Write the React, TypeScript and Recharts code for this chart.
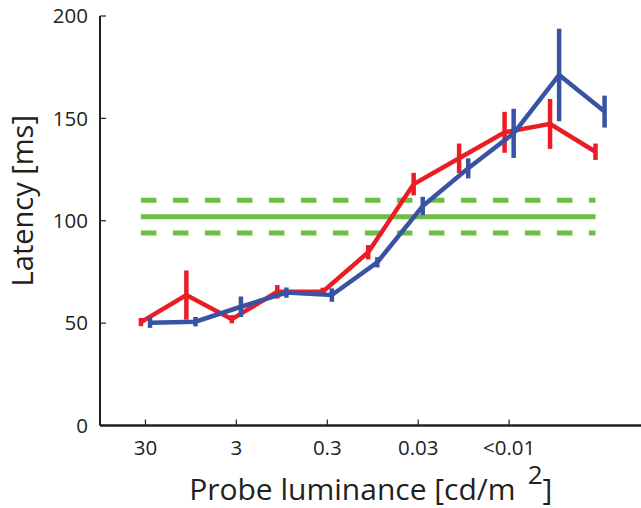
import React from 'react';
import { ComposedChart, Line, XAxis, YAxis, ErrorBar, Label } from 'recharts';

// ---- data ----
const conditionSteps = [0, 1, 2, 3, 4, 5, 6, 7, 8, 9, 10];
const redLatency = [50.5, 63.7, 51.9, 65.3, 65.3, 84.6, 117.9, 130.5, 143.2, 147.3, 133.7];
const redError = [2, 12, 2, 3.3, 2, 3.5, 5.5, 7.2, 10, 12.2, 4];
const blueLatency = [50.2, 50.7, 58.0, 64.9, 63.7, 79.7, 107.2, 125.6, 142.7, 171.2, 153.3];
const blueError = [2.5, 2.3, 5, 2.5, 3.3, 2.5, 4.5, 4.9, 12, 22.6, 7.8];
const greenMean = 102;
const greenUpper = 110;
const greenLower = 94;
const xTickValues = [0, 2, 4, 6, 8];
const xTickLabels = ['30', '3', '0.3', '0.03', '<0.01'];
const yTickValues = [0, 50, 100, 150, 200];

const redShift = -0.1;
const blueShift = 0.1;

const redData = conditionSteps.map((s, i) => ({ x: s + redShift, y: redLatency[i], err: redError[i] }));
const blueData = conditionSteps.map((s, i) => ({ x: s + blueShift, y: blueLatency[i], err: blueError[i] }));
const xStart = conditionSteps[0] + redShift;
const xEnd = conditionSteps[conditionSteps.length - 1] + redShift;
const greenMid = [{ x: xStart, y: greenMean }, { x: xEnd, y: greenMean }];
const greenHi = [{ x: xStart, y: greenUpper }, { x: xEnd, y: greenUpper }];
const greenLo = [{ x: xStart, y: greenLower }, { x: xEnd, y: greenLower }];

const RED = '#ED1C24';
const BLUE = '#3953A4';
const GREEN = '#6CBE45';
const INK = '#231F20';
const FONT = '"Open Sans", sans-serif';

const xFmt = (v: number) => {
  const i = xTickValues.indexOf(v);
  return i >= 0 ? xTickLabels[i] : '';
};

const YTitle = (props: any) => {
  const vb = props.viewBox || {};
  const cx = vb.x + 33;
  const cy = vb.y + vb.height / 2 - 20;
  return (
    <text x={cx} y={cy} transform={`rotate(-90 ${cx} ${cy})`} textAnchor="middle" fill={INK}
      fontFamily={FONT} fontSize={29}>Latency [ms]</text>
  );
};

const XTitle = (props: any) => {
  const vb = props.viewBox || {};
  const cx = vb.x + vb.width / 2 - 2;
  const cy = vb.y + 74.5;
  return (
    <text x={cx} y={cy} textAnchor="middle" fill={INK} fontFamily={FONT} fontSize={30}>
      <tspan>Probe luminance [cd/m</tspan>
      <tspan dx={12} dy={-16} fontSize={26}>2</tspan>
      <tspan dy={16}>]</tspan>
    </text>
  );
};

export default function App() {
  return (
    <div style={{ position: 'absolute', left: 0, top: 0, width: 641, height: 508, overflow: 'hidden', background: '#fff' }}>
      <ComposedChart width={660} height={508} margin={{ top: 16, right: 14.5, bottom: 0, left: 0 }}>
        <XAxis xAxisId="b" type="number" dataKey="x" domain={[-1, 11]} ticks={xTickValues} interval={0}
          allowDataOverflow tickFormatter={xFmt} height={82.5} tickSize={-6} tickMargin={21}
          axisLine={{ stroke: INK, strokeWidth: 2.5 }} tickLine={{ stroke: INK, strokeWidth: 1.2 }}
          tick={{ fill: INK, fontSize: 20.5, fontFamily: FONT }}>
          <Label content={<XTitle />} />
        </XAxis>
        <XAxis xAxisId="t" orientation="top" type="number" dataKey="x" domain={[-1, 11]} ticks={xTickValues}
          interval={0} allowDataOverflow tickFormatter={() => ''} height={0} tickSize={-6}
          axisLine={{ stroke: INK, strokeWidth: 2 }} tickLine={{ stroke: INK, strokeWidth: 1.2 }} />
        <YAxis yAxisId="l" type="number" domain={[0, 200]} ticks={yTickValues} interval={0} width={100}
          tickSize={-6} tickMargin={18} axisLine={{ stroke: INK, strokeWidth: 2 }}
          tickLine={{ stroke: INK, strokeWidth: 1.2 }} tick={{ fill: INK, fontSize: 20.5, fontFamily: FONT }}>
          <Label content={<YTitle />} />
        </YAxis>
        <YAxis yAxisId="r" orientation="right" type="number" domain={[0, 200]} ticks={yTickValues} interval={0}
          width={0} tickSize={-6} tickFormatter={() => ''} axisLine={{ stroke: INK, strokeWidth: 2 }}
          tickLine={{ stroke: INK, strokeWidth: 1.2 }} />

        <Line xAxisId="b" yAxisId="l" data={greenHi} dataKey="y" type="linear" stroke={GREEN} strokeWidth={5}
          strokeDasharray="15.5 16.5" dot={false} activeDot={false} isAnimationActive={false} />
        <Line xAxisId="b" yAxisId="l" data={greenMid} dataKey="y" type="linear" stroke={GREEN} strokeWidth={5}
          dot={false} activeDot={false} isAnimationActive={false} />
        <Line xAxisId="b" yAxisId="l" data={greenLo} dataKey="y" type="linear" stroke={GREEN} strokeWidth={5}
          strokeDasharray="15.5 16.5" dot={false} activeDot={false} isAnimationActive={false} />

        <Line xAxisId="b" yAxisId="l" data={redData} dataKey="y" type="linear" stroke={RED} strokeWidth={4.5}
          dot={false} activeDot={false} isAnimationActive={false}>
          <ErrorBar dataKey="err" direction="y" width={0} stroke={RED} strokeWidth={4.5} />
        </Line>
        <Line xAxisId="b" yAxisId="l" data={blueData} dataKey="y" type="linear" stroke={BLUE} strokeWidth={4.5}
          dot={false} activeDot={false} isAnimationActive={false}>
          <ErrorBar dataKey="err" direction="y" width={0} stroke={BLUE} strokeWidth={4.5} />
        </Line>
      </ComposedChart>
    </div>
  );
}
